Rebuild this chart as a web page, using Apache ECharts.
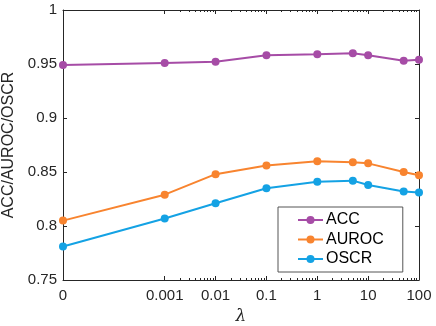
<!DOCTYPE html>
<html>
<head>
<meta charset="utf-8">
<script src="https://cdn.jsdelivr.net/npm/echarts@6/dist/echarts.min.js"></script>
<style>
  html, body { margin: 0; padding: 0; background: #fff; }
  #main { width: 436px; height: 326px; }
</style>
</head>
<body>
<div id="main"></div>
<script>
// lambda values (0 is drawn at the 1e-5 slot of the log axis, like the original)
const lambdas = [0, 0.001, 0.01, 0.1, 1, 5, 10, 50, 100]
const acc   = [0.949, 0.951, 0.952, 0.958, 0.959, 0.960, 0.958, 0.953, 0.954]
const auroc = [0.805, 0.829, 0.848, 0.856, 0.860, 0.859, 0.858, 0.850, 0.847]
const oscr  = [0.781, 0.807, 0.821, 0.835, 0.841, 0.842, 0.838, 0.832, 0.831]

const xTickLabels = ['0', '', '0.001', '0.01', '0.1', '1', '10', '100']
const ZERO_AT = 1e-5

const axisColor = '#262626'
const font = 'Arial, "Liberation Sans", sans-serif'

const majorTicks = [1e-3, 1e-2, 1e-1, 1, 10, 100]
const minorTicks = []
for (let e = -3; e < 2; e++) {
  for (let k = 2; k <= 9; k++) minorTicks.push(k * Math.pow(10, e))
}

const toX = v => (v === 0 ? ZERO_AT : v)
const pairs = arr => lambdas.map((l, i) => [toX(l), arr[i]])

function xLabel(v) {
  const e = Math.round(Math.log10(v))
  return xTickLabels[e + 5] || ''
}

const chart = echarts.init(document.getElementById('main'))

const logBase = {
  type: 'log',
  logBase: 10,
  min: ZERO_AT,
  max: 100,
  gridIndex: 0,
  splitLine: { show: false },
  minorTick: { show: false },
  axisLine: { show: true, lineStyle: { color: axisColor, width: 1 } }
}

chart.setOption({
  animation: false,
  grid: { left: 63, top: 10, right: 17, bottom: 46, outerBoundsMode: 'none', containLabel: false },
  xAxis: [
    Object.assign({}, logBase, {
      position: 'bottom',
      name: 'λ',
      nameLocation: 'middle',
      nameGap: 26,
      nameTextStyle: { fontFamily: 'DejaVu Serif, serif', fontStyle: 'italic', fontSize: 17, color: axisColor },
      axisTick: { show: true, inside: true, length: 4, customValues: majorTicks, lineStyle: { color: axisColor } },
      axisLabel: {
        show: true, margin: 8, fontSize: 15, fontFamily: font, color: axisColor,
        customValues: [ZERO_AT].concat(majorTicks),
        formatter: xLabel
      }
    }),
    Object.assign({}, logBase, {
      position: 'bottom',
      axisLine: { show: false },
      axisTick: { show: true, inside: true, length: 2, customValues: minorTicks, lineStyle: { color: axisColor } },
      axisLabel: { show: false }
    }),
    Object.assign({}, logBase, {
      position: 'top',
      axisTick: { show: true, inside: true, length: 4, customValues: majorTicks, lineStyle: { color: axisColor } },
      axisLabel: { show: false }
    }),
    Object.assign({}, logBase, {
      position: 'top',
      axisLine: { show: false },
      axisTick: { show: true, inside: true, length: 2, customValues: minorTicks, lineStyle: { color: axisColor } },
      axisLabel: { show: false }
    })
  ],
  yAxis: [
    {
      type: 'value',
      position: 'left',
      min: 0.75,
      max: 1,
      interval: 0.05,
      name: 'ACC/AUROC/OSCR',
      nameLocation: 'middle',
      nameGap: 40,
      nameTextStyle: { fontSize: 16, fontFamily: font, color: axisColor },
      splitLine: { show: false },
      axisLine: { show: true, lineStyle: { color: axisColor, width: 1 } },
      axisTick: { show: true, inside: true, length: 4, lineStyle: { color: axisColor } },
      axisLabel: { margin: 6, fontSize: 15, fontFamily: font, color: axisColor }
    },
    {
      type: 'value',
      position: 'right',
      min: 0.75,
      max: 1,
      interval: 0.05,
      splitLine: { show: false },
      axisLine: { show: true, lineStyle: { color: axisColor, width: 1 } },
      axisTick: { show: true, inside: true, length: 4, lineStyle: { color: axisColor } },
      axisLabel: { show: false }
    }
  ],
  legend: {
    orient: 'vertical',
    left: 278,
    top: 207,
    padding: [4, 19, 4, 19],
    itemWidth: 25,
    itemHeight: 10,
    itemGap: 1.5,
    borderColor: '#555',
    borderWidth: 1,
    backgroundColor: '#fff',
    textStyle: { fontSize: 16, fontFamily: font, color: '#000', padding: [0, 0, 0, -2], lineHeight: 18 },
    data: ['ACC', 'AUROC', 'OSCR']
  },
  series: [
    { name: 'ACC', data: pairs(acc), color: '#A64CA6' },
    { name: 'AUROC', data: pairs(auroc), color: '#F8842F' },
    { name: 'OSCR', data: pairs(oscr), color: '#14A2E4' }
  ].map(s => Object.assign({
    type: 'line',
    xAxisIndex: 0,
    yAxisIndex: 0,
    symbol: 'circle',
    symbolSize: 8,
    lineStyle: { width: 2 }
  }, s))
})
</script>
</body>
</html>
